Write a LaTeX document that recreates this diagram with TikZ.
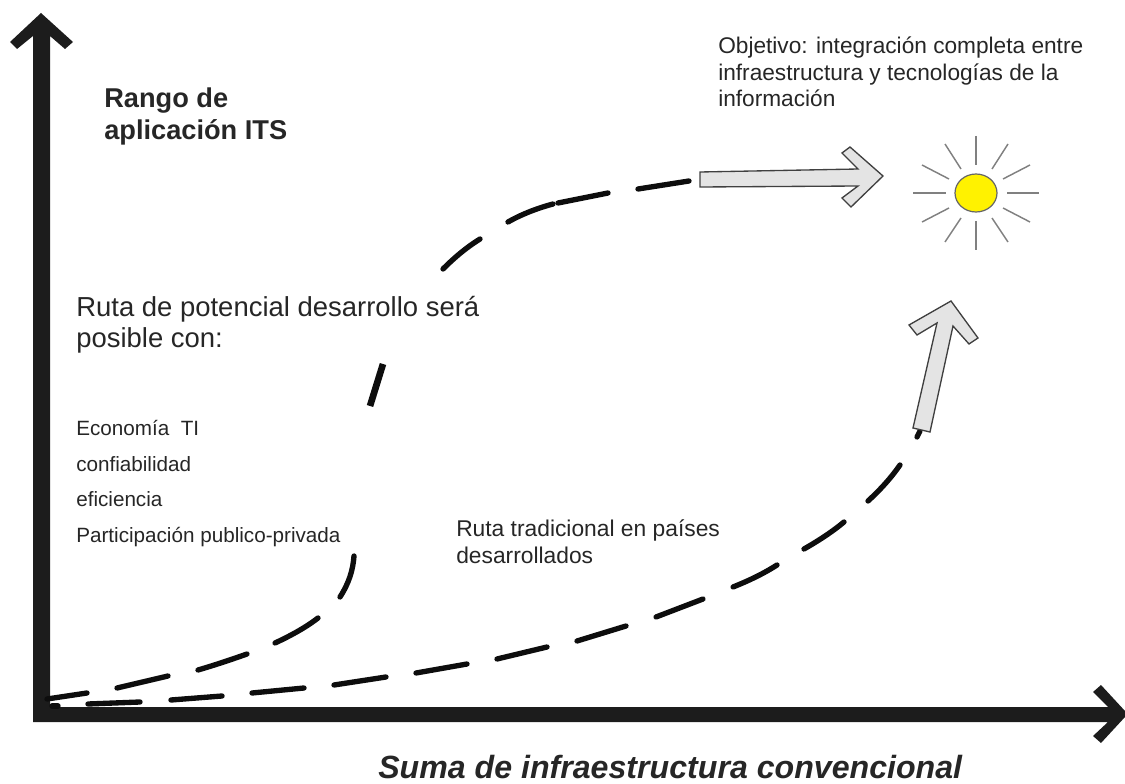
\documentclass[tikz,border=0pt]{standalone}
\usepackage{fontspec}
\setmainfont{Liberation Sans}
\definecolor{ink}{HTML}{1C1C1C}
\definecolor{txt}{HTML}{262626}
\definecolor{ray}{HTML}{808080}
\definecolor{pale}{HTML}{E4E4E4}
\tikzset{
 axisfill/.style={fill=ink,draw=none},
 dashseg/.style={draw=black!95,line width=4pt,line cap=round},
 bigarrow/.style={draw=black!75,fill=pale,line width=1pt,line join=miter},
 sunray/.style={draw=ray,line width=1.1pt},
 label/.style={inner sep=0pt,anchor=north west,align=left,text=txt},
}
\begin{document}
\begin{tikzpicture}[x=0.75pt,y=-0.75pt]
\useasboundingbox (0,0) rectangle (1125,784);
% axes
\path[axisfill] (33,722) -- (33,36) -- (17,49) -- (10,42) -- (41,13) -- (73,42) -- (65,49) -- (50,36) -- (50,707) -- (1108,707) -- (1093,692) -- (1101,685) -- (1125,711) -- (1125,717) -- (1101,743) -- (1093,736) -- (1108,722) -- cycle;
% upper dashed curve
\draw[dashseg] (47,699) -- (87,693);
\draw[dashseg] (117,688) -- (168,676);
\draw[dashseg] (198,670) .. controls (215,665) and (230,660) .. (247,654);
\draw[dashseg] (275,643) .. controls (290,636) and (305,628) .. (318,618);
\draw[dashseg] (340,597) .. controls (349,583) and (353,570) .. (354,556);
\draw[dashseg,line cap=butt,line width=5pt] (370,406) -- (383,364);
\draw[dashseg] (443,269) .. controls (455,257) and (467,247) .. (480,239);
\draw[dashseg] (508,222) .. controls (522,214) and (538,208) .. (553,204);
\draw[dashseg] (558,203) -- (608,193);
\draw[dashseg] (638,189) -- (689,181);
% lower dashed curve
\draw[dashseg] (52,706) -- (58,706);
\draw[dashseg] (88,704) -- (140,702);
\draw[dashseg] (171,700) -- (222,696);
\draw[dashseg] (252,693) -- (304,688);
\draw[dashseg] (334,685) -- (386,677);
\draw[dashseg] (416,673) -- (467,664);
\draw[dashseg] (497,659) -- (547,647);
\draw[dashseg] (577,641) -- (626,626);
\draw[dashseg] (656,617) -- (703,599);
\draw[dashseg] (733,587) .. controls (748,581) and (763,574) .. (777,565);
\draw[dashseg] (804,549) .. controls (818,541) and (832,532) .. (844,522);
\draw[dashseg] (868,501) .. controls (880,490) and (891,478) .. (900,465);
\draw[dashseg] (917,437) -- (920,431);
% grey arrows
\draw[bigarrow] (700,172) -- (858,169) -- (842,153) -- (850,147) -- (883,176) -- (851,207) -- (842,198) -- (858,186) -- (700,187) -- cycle;
\draw[bigarrow] (913,428) -- (937,323) -- (917,335) -- (909,325) -- (951,301) -- (978,338) -- (969,344) -- (953,326) -- (930,432) -- cycle;
% sun
\draw[draw=black!60,fill=yellow,line width=0.9pt] (976,193) ellipse [x radius=21,y radius=19];
\foreach \a/\b/\c/\d in {976/136/976/165,976/221/976/250,913/193/946/193,1007/193/1039/193,
 945/144/961/169,1008/144/992/169,922/165/949/179,1030/165/1003/179,
 922/222/949/208,1030/222/1003/208,945/242/961/218,1008/242/992/218}
 \draw[sunray] (\a,\b) -- (\c,\d);
% texts
\node[label,font=\fontsize{17pt}{20pt}\selectfont] (goal) at (718,36.5) {Objetivo: integración completa entre\\infraestructura y tecnologías de la\\información};
\node[label,font=\fontsize{20.4pt}{23.5pt}\selectfont\bfseries] (rango) at (104,88) {Rango de\\aplicación ITS};
\node[label,font=\fontsize{20.6pt}{23.5pt}\selectfont] (ruta) at (76,296) {Ruta de potencial desarrollo será\\posible con:};
\node[label,font=\fontsize{15.5pt}{26.8pt}\selectfont] (factors) at (76,420) {Economía\ \ TI\\confiabilidad\\eficiencia\\Participación publico-privada};
\node[label,font=\fontsize{17.1pt}{20.5pt}\selectfont] (trad) at (456,519) {Ruta tradicional en países\\desarrollados};
\node[label,font=\fontsize{24.1pt}{28pt}\selectfont\bfseries\itshape] (xlabel) at (378,754.5) {Suma de infraestructura convencional};
\end{tikzpicture}
\end{document}
